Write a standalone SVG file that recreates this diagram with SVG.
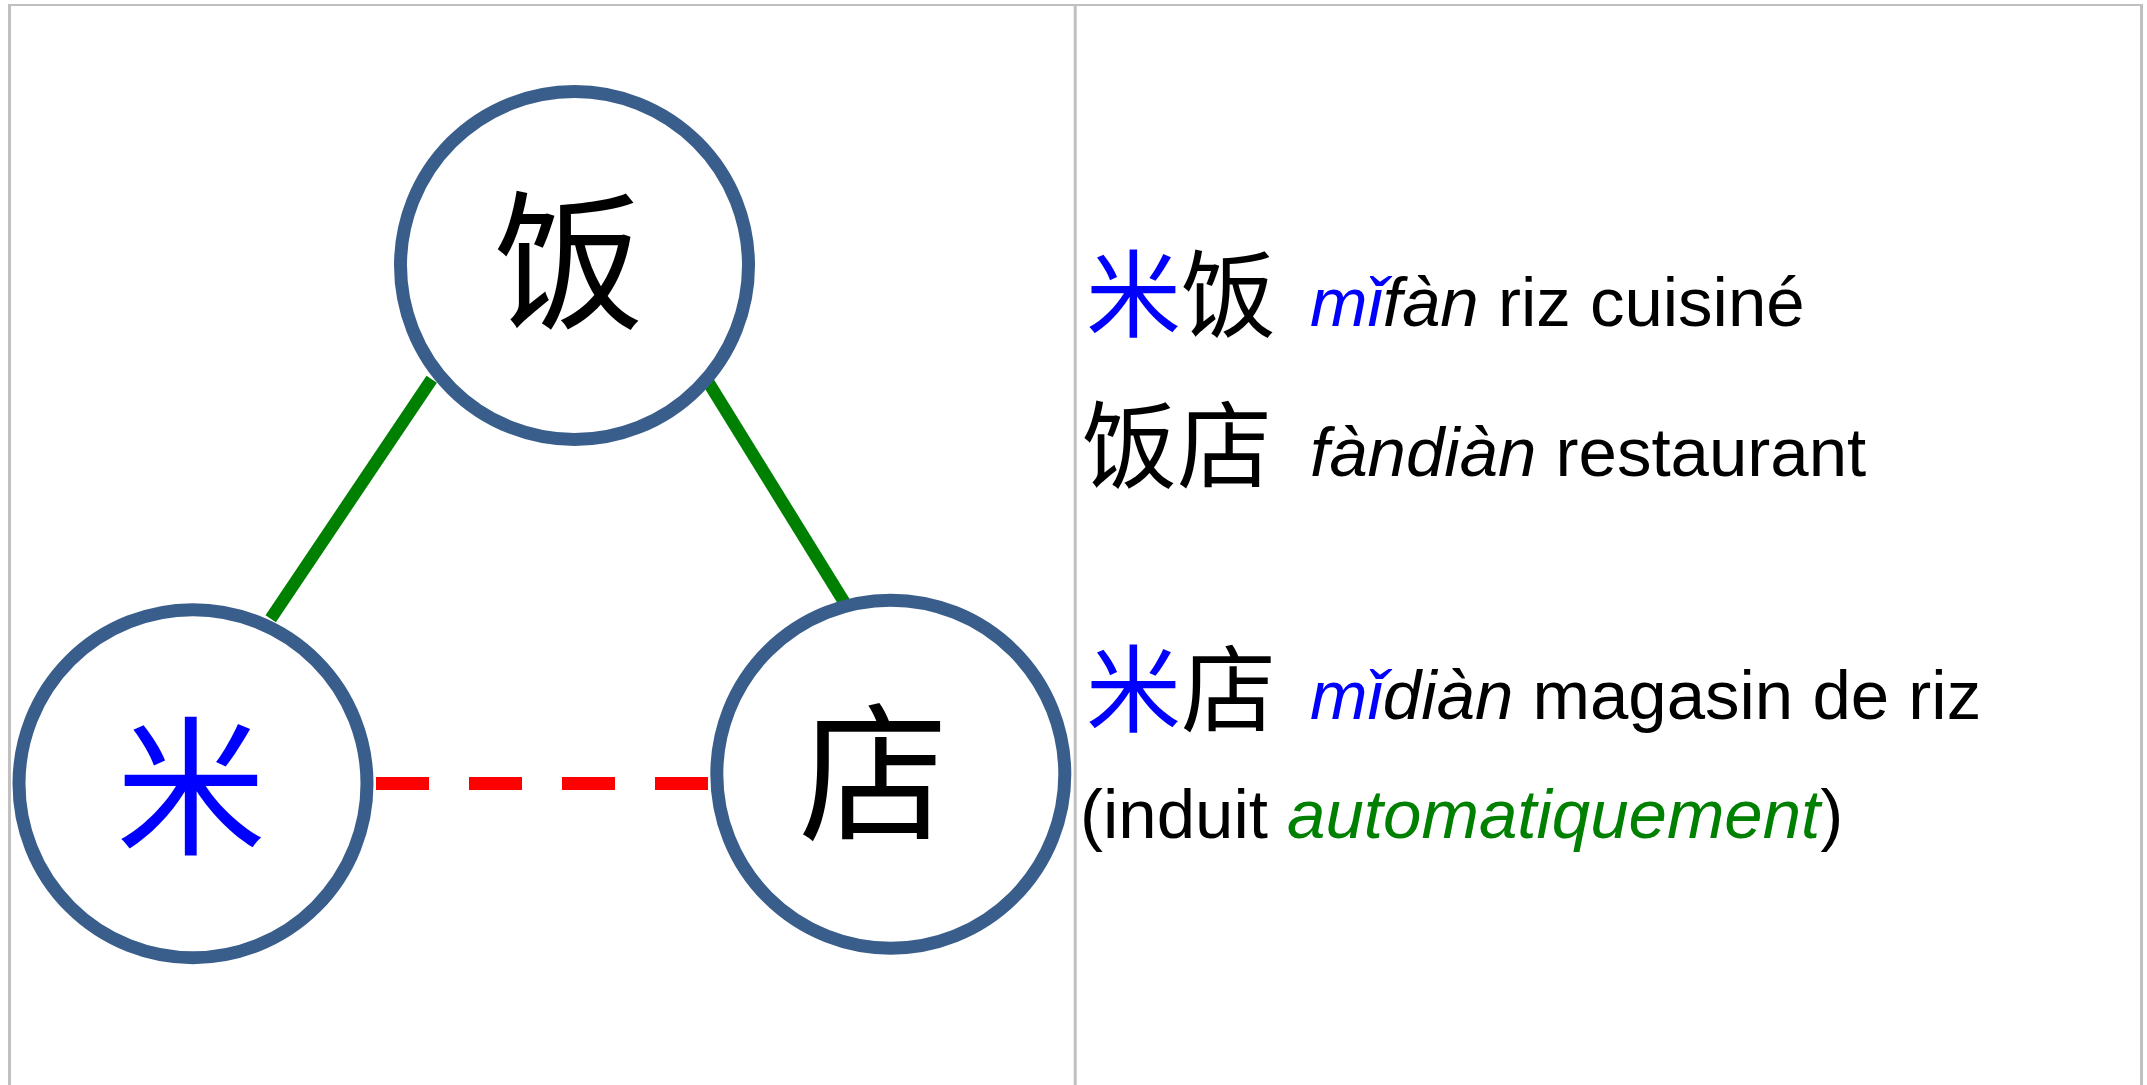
<svg xmlns="http://www.w3.org/2000/svg" width="2147" height="1085" viewBox="0 0 2147 1085">
<style>
.frame{stroke:#c0c0c0;fill:none}
.node{fill:#ffffff;stroke:#3a5e8b;stroke-width:13}
.han{font-family:"Noto Sans CJK SC","Noto Sans CJK TC",sans-serif;text-anchor:middle}
.cjk{font-family:"Noto Sans CJK SC","Noto Sans CJK TC",sans-serif;font-size:95px}
.lat{font-family:"Liberation Sans",Arial,sans-serif;font-size:69px;fill:#000000}
.it{font-style:italic}
.blue{fill:#0000ff}
.green{fill:#008000}
.link{stroke:#008000;stroke-width:12.5;stroke-linecap:butt}
.induced{stroke:#ff0000;stroke-width:13;stroke-dasharray:53 40;stroke-linecap:butt}
</style>
<rect x="0" y="0" width="2147" height="1085" fill="#ffffff"/>
<g id="frame">
<line class="frame" x1="9.5" y1="4" x2="9.5" y2="1085" stroke-width="3"/>
<line class="frame" x1="8" y1="5" x2="2143" y2="5" stroke-width="2"/>
<line class="frame" x1="2141.5" y1="4" x2="2141.5" y2="1085" stroke-width="3"/>
<line class="frame" x1="1075.2" y1="5" x2="1075.2" y2="1085" stroke-width="3"/>
</g>
<g id="connectors">
<line class="link" x1="431.7" y1="379.3" x2="270.7" y2="618.7"/>
<line class="link" x1="708.3" y1="382.3" x2="848.3" y2="608.7"/>
<line class="induced" x1="376" y1="783.5" x2="710" y2="783.5"/>
</g>
<g id="node-fan">
<circle class="node" cx="574.5" cy="265.5" r="174"/>
<text class="han" x="569" y="317" font-size="150" fill="#000000">饭</text>
</g>
<g id="node-mi">
<circle class="node" cx="193" cy="783.7" r="174"/>
<text class="han" x="191" y="843" font-size="150" fill="#0000ff">米</text>
</g>
<g id="node-dian">
<circle class="node" cx="890.8" cy="774.2" r="174"/>
<text class="han" x="873.5" y="829" font-size="150" fill="#000000">店</text>
</g>
<g id="legend">
<text class="cjk" x="1086" y="330"><tspan class="blue">米</tspan><tspan fill="#000000">饭</tspan></text>
<text class="lat" x="1310" y="326"><tspan class="it blue">mǐ</tspan><tspan class="it">fàn</tspan> riz cuisiné</text>
<text class="cjk" x="1082" y="481" fill="#000000">饭店</text>
<text class="lat" x="1310" y="476"><tspan class="it">fàndiàn</tspan> restaurant</text>
<text class="cjk" x="1086" y="725"><tspan class="blue">米</tspan><tspan fill="#000000">店</tspan></text>
<text class="lat" x="1310" y="719"><tspan class="it blue">mǐ</tspan><tspan class="it">diàn</tspan> magasin de riz</text>
<text class="lat" x="1080" y="838">(induit <tspan class="it green">automatiquement</tspan>)</text>
</g>
</svg>
